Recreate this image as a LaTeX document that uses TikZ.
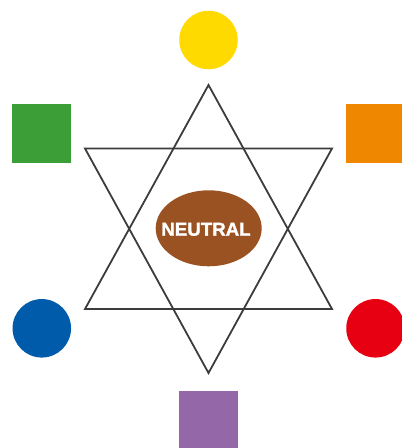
\documentclass[tikz,border=0pt]{standalone}
\usepackage{fontspec}
\setmainfont{Liberation Sans}
\newfontfamily\heavyfont[BoldFeatures={FakeBold=1.5}]{Liberation Sans}
\usetikzlibrary{shapes.geometric}
\definecolor{cyellow}{HTML}{FFDA00}
\definecolor{cgreen}{HTML}{3C9E37}
\definecolor{corange}{HTML}{F08700}
\definecolor{cblue}{HTML}{005BAA}
\definecolor{cred}{HTML}{E60012}
\definecolor{cpurple}{HTML}{9467A9}
\definecolor{cbrown}{HTML}{9B5223}
\definecolor{cline}{HTML}{3C3C3C}
\begin{document}
\begin{tikzpicture}[x=1pt,y=-1pt,
  dot/.style={circle,minimum size=58.5pt,inner sep=0pt,draw=none},
  sq/.style={rectangle,minimum width=58.5pt,minimum height=58.5pt,inner sep=0pt,draw=none},
  tri/.style={draw=cline,line width=1.8pt,line join=miter}]
\useasboundingbox (0,0) rectangle (402,448);
% star
\coordinate (ua) at (208.5,85);
\coordinate (ul) at (85,309);
\coordinate (ur) at (332,309);
\coordinate (dl) at (85,148.5);
\coordinate (dr) at (332,148.5);
\coordinate (da) at (208.5,373);
\draw[tri] (ua) -- (ul) -- (ur) -- cycle;
\draw[tri] (dl) -- (dr) -- (da) -- cycle;
% colours
\node[dot,fill=cyellow] (yellow) at (208.5,40) {};
\node[sq,fill=cgreen] (green) at (41.5,133.3) {};
\node[sq,fill=corange] (orange) at (375.3,133.3) {};
\node[dot,fill=cblue] (blue) at (41.8,328.3) {};
\node[dot,fill=cred] (red) at (375.5,328.3) {};
\node[sq,fill=cpurple] (purple) at (208.5,420) {};
% neutral
\node[ellipse,fill=cbrown,minimum width=106pt,minimum height=76pt,inner sep=0pt] (neutral) at (208.7,228.3) {};
\node[text=white,font=\heavyfont\bfseries\fontsize{18.7}{21}\selectfont,inner sep=0pt,anchor=base] (label) at (206,235.7) {NEUTRAL};
\end{tikzpicture}
\end{document}
